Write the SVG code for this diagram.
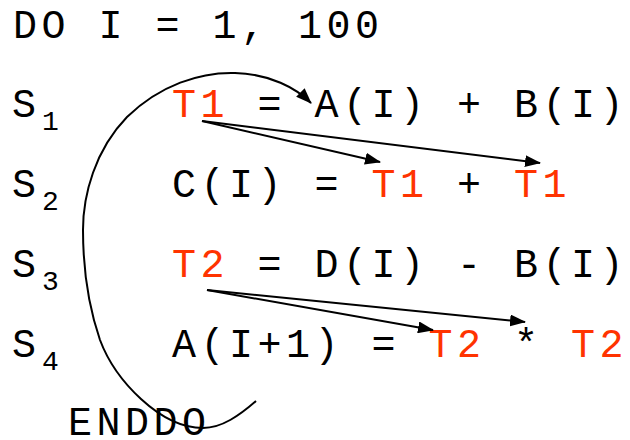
<svg xmlns="http://www.w3.org/2000/svg" width="630" height="440" viewBox="0 0 630 440">
  <style>
    .code { font-family: "Liberation Mono", "DejaVu Sans Mono", monospace; font-size: 40px; letter-spacing: 4.5px; fill: #000; }
    .sub { font-family: "Liberation Mono", "DejaVu Sans Mono", monospace; font-size: 28px; fill: #000; }
    .red { fill: #FF3300; }
    .edge { fill: none; stroke: #000; stroke-width: 2; }
  </style>
  <defs>
    <marker id="arrow" viewBox="0 0 16 12" refX="15" refY="6" markerWidth="16" markerHeight="12" markerUnits="userSpaceOnUse" orient="auto">
      <path d="M0,0 L16,6 L0,12 z" fill="#000"/>
    </marker>
  </defs>
  <rect width="630" height="440" fill="#fff"/>

  <g id="loop-header">
    <text class="code" x="13" y="38">DO I = 1, 100</text>
  </g>
  <g id="S1">
    <text class="code" x="12" y="117">S</text>
    <text class="sub" x="42" y="130">1</text>
    <text class="code" x="172" y="117"><tspan class="red">T1</tspan> = A(I) + B(I)</text>
  </g>
  <g id="S2">
    <text class="code" x="12" y="197">S</text>
    <text class="sub" x="42" y="210">2</text>
    <text class="code" x="172" y="197">C(I) = <tspan class="red">T1</tspan> + <tspan class="red">T1</tspan></text>
  </g>
  <g id="S3">
    <text class="code" x="12" y="277">S</text>
    <text class="sub" x="42" y="290">3</text>
    <text class="code" x="172" y="277"><tspan class="red">T2</tspan> = D(I) - B(I)</text>
  </g>
  <g id="S4">
    <text class="code" x="12" y="357">S</text>
    <text class="sub" x="42" y="370">4</text>
    <text class="code" x="172" y="357">A(I+1) = <tspan class="red">T2</tspan> * <tspan class="red">T2</tspan></text>
  </g>
  <g id="loop-end">
    <text class="code" x="68" y="435">ENDDO</text>
  </g>

  <g id="connectors">
    <path class="edge" marker-end="url(#arrow)" d="M256,401 C240,415 222,428 203,428 C160,428 115,380 100,340 C88,305 83,270 83,230 C83,195 95,150 127,117 C160,85 200,72 235,73 C270,74 296,88 311,103"/>
    <line class="edge" marker-end="url(#arrow)" x1="202" y1="121" x2="380" y2="162"/>
    <line class="edge" marker-end="url(#arrow)" x1="202" y1="121" x2="540" y2="163"/>
    <line class="edge" marker-end="url(#arrow)" x1="207" y1="290" x2="433" y2="330"/>
    <line class="edge" marker-end="url(#arrow)" x1="207" y1="290" x2="525" y2="322"/>
  </g>
</svg>
